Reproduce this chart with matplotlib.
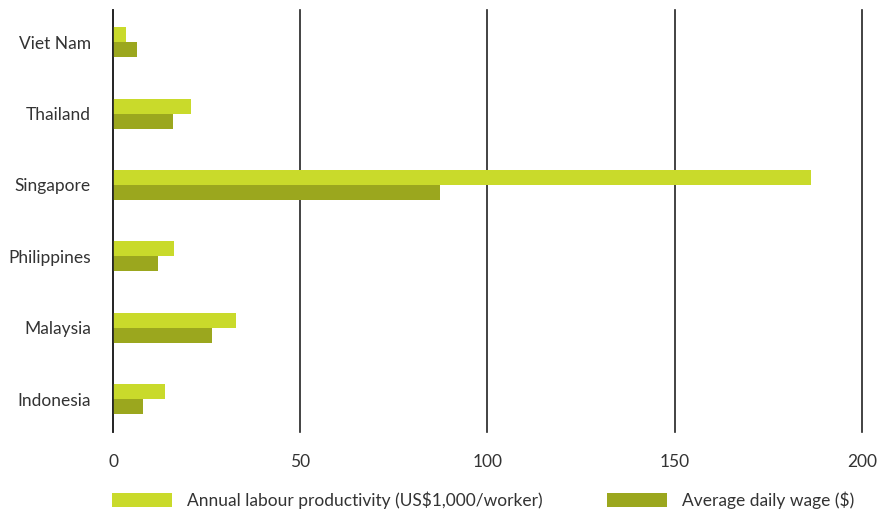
import numpy as np
import matplotlib.pyplot as plt

countries = ["Indonesia", "Malaysia", "Philippines", "Singapore", "Thailand", "Viet Nam"]
productivity = [13.9, 32.8, 16.3, 186.5, 20.8, 3.5]
wage = [8.0, 26.4, 12.0, 87.3, 16.0, 6.4]

light = "#c9da2b"
dark = "#9ba71e"

plt.rcParams["font.family"] = ["Lato", "DejaVu Sans"]

fig = plt.figure(figsize=(8.83, 5.15), dpi=100)
ax = fig.add_axes([113 / 883, 1 - 432 / 515, 749 / 883, 422 / 515])

y = np.arange(len(countries))
h = 0.21
ax.barh(y + h / 2, productivity, height=h, color=light,
        label="Annual labour productivity (US$1,000/worker)", zorder=2)
ax.barh(y - h / 2, wage, height=h, color=dark,
        label="Average daily wage ($)", zorder=2)

ax.set_xlim(0, 200)
ax.set_ylim(-0.46, 5.45)
ax.set_xticks([0, 50, 100, 150, 200])
ax.set_yticks(y)
ax.set_yticklabels(countries)
ax.tick_params(axis="both", length=0, labelsize=12.5, colors="#333333")
ax.tick_params(axis="y", pad=16)
ax.tick_params(axis="x", pad=16)
for s in ["top", "right", "bottom"]:
    ax.spines[s].set_visible(False)
ax.spines["left"].set_color("#222222")
ax.spines["left"].set_linewidth(1.2)
ax.xaxis.grid(True, color="#222222", linewidth=1.2, zorder=0)
ax.set_axisbelow(True)
for gl in ax.get_xgridlines():
    gl.set_clip_on(False)

fig.legend(loc="center left", bbox_to_anchor=(112 / 883, 15 / 515), ncol=2, frameon=False,
           borderpad=0, borderaxespad=0,
           handlelength=3.45, handleheight=0.85, handletextpad=0.86, columnspacing=3.7,
           fontsize=12.5, labelcolor="#333333")

fig.savefig("out.png", dpi=100)
